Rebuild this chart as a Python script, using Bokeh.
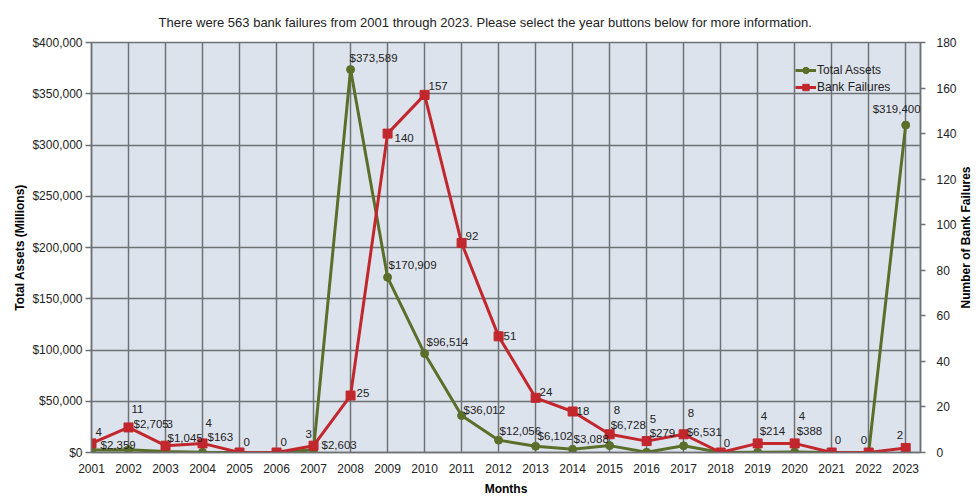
import math
from bokeh.plotting import figure
from bokeh.models import (ColumnDataSource, Range1d, LinearAxis, FixedTicker,
                          NumeralTickFormatter, LabelSet, Legend, LegendItem, Label)
from bokeh.core.properties import value
from bokeh.embed import file_html
from bokeh.resources import INLINE

# ---- data ----
years = [2001, 2002, 2003, 2004, 2005, 2006, 2007, 2008, 2009, 2010, 2011, 2012,
         2013, 2014, 2015, 2016, 2017, 2018, 2019, 2020, 2021, 2022, 2023]
total_assets = [2359, 2705, 1045, 163, 0, 0, 2603, 373589, 170909, 96514, 36012, 12056,
                6102, 3088, 6728, 279, 6531, 0, 214, 388, 0, 0, 319400]
bank_failures = [4, 11, 3, 4, 0, 0, 3, 25, 140, 157, 92, 51,
                 24, 18, 8, 5, 8, 0, 4, 4, 0, 0, 2]
assets_ticks = [0, 50000, 100000, 150000, 200000, 250000, 300000, 350000, 400000]
failure_ticks = [0, 20, 40, 60, 80, 100, 120, 140, 160, 180]

# ---- label placement (screen pixel offsets, style only) ----
assets_dx = [9, 5, 2, 5, 0, 0, 8, -1, 1, 2, 2, 1, 2, 1, 1, 3, 3, 0, 2, 2, 0, 0, -33]
assets_dy = [-5, -26, -13, -15, 0, 0, -5, -12, -12, -12, -6, -9, -10, -10, -21, -19, -14, 0, -21, -21, 0, 0, -16]
fail_dx = [4, 3, 1, 3, 4, 4, -8, 6, 7, 4, 4, 5, 4, 4, 4, 3, 4, 3, 3, 4, 3, -8, -9]
fail_dy = [-11, -18, -22, -20, -11, -11, -12, -3, 4, -9, -7, 0, -6, -1, -24, -22, -21, -10, -27, -27, -13, -13, -13]

GREEN = "#5b6f2a"
RED = "#c1272d"
GRID = "#6e7275"
TXT = "#222222"
FONT = "Liberation Sans"

p = figure(width=975, height=498, output_backend="svg", toolbar_location=None,
           x_range=Range1d(2001, 2023.4), y_range=Range1d(0, 400000),
           min_border_left=91, min_border_right=55, min_border_top=42, min_border_bottom=40,
           background_fill_color="#dde3ed", border_fill_color="white")
p.extra_y_ranges = {"fail": Range1d(0, 180)}
p.outline_line_color = GRID
p.outline_line_width = 1.5

total = sum(bank_failures)
title_text = (f"There were {total} bank failures from {years[0]} through {years[-1]}. "
              "Please select the year buttons below for more information.")
p.title.text = title_text
p.title.align = "left"
p.title.offset = 67
p.title.text_font = FONT
p.title.text_font_size = "13px"
p.title.text_font_style = "normal"
p.title.text_color = TXT
p.title.standoff = 25

# x axis
p.xaxis.ticker = FixedTicker(ticks=years)
p.xaxis.axis_label = "Months"
p.xaxis.major_tick_out = 0
p.xaxis.major_tick_in = 0
p.xaxis.minor_tick_out = 0
p.xaxis.minor_tick_in = 0
p.xaxis.major_label_standoff = 11
p.xaxis.axis_label_standoff = 6

# left axis
p.yaxis.ticker = FixedTicker(ticks=assets_ticks)
p.yaxis.formatter = NumeralTickFormatter(format="$0,0")
p.yaxis.axis_label = "Total Assets (Millions)"
p.yaxis.major_tick_out = 6
p.yaxis.major_tick_in = 0
p.yaxis.minor_tick_out = 0
p.yaxis.minor_tick_in = 0
p.yaxis.major_label_standoff = 3
p.yaxis.axis_label_standoff = 2

# right axis
rax = LinearAxis(y_range_name="fail", ticker=FixedTicker(ticks=failure_ticks))
rax.major_tick_out = 5
rax.major_tick_in = 0
rax.minor_tick_out = 0
rax.minor_tick_in = 0
rax.major_label_standoff = 11
p.add_layout(rax, "right")

for ax in [p.xaxis[0], p.yaxis[0], rax]:
    ax.axis_line_color = GRID
    ax.axis_line_width = 1.5
    ax.major_tick_line_color = GRID
    ax.major_tick_line_width = 1.5
    ax.major_label_text_font = FONT
    ax.major_label_text_font_size = "12px"
    ax.major_label_text_color = TXT
    ax.axis_label_text_font = FONT
    ax.axis_label_text_font_size = "12px"
    ax.axis_label_text_font_style = "bold"
    ax.axis_label_text_color = "#000000"

# right-hand axis title, reading bottom-to-top, placed in the right side panel
p.add_layout(Label(x=6, y=215, x_units="screen", y_units="screen", angle=math.pi / 2,
                   text="Number of Bank Failures", text_align="center", text_baseline="middle",
                   text_font=FONT, text_font_size="12px", text_font_style="bold",
                   text_color="#000000"), "right")

p.xgrid.grid_line_color = GRID
p.xgrid.grid_line_width = 1.5
p.ygrid.grid_line_color = GRID
p.ygrid.grid_line_width = 1.5

# series
g_line = p.line(years, total_assets, line_color=GREEN, line_width=3)
g_pts = p.scatter(years, total_assets, marker="circle", size=8, fill_color=GREEN, line_color=GREEN)
r_line = p.line(years, bank_failures, y_range_name="fail", line_color=RED, line_width=3)
r_pts = p.scatter(years, bank_failures, y_range_name="fail", marker="square", size=9,
                  fill_color=RED, line_color=RED)

# data labels
a_idx = [i for i, v in enumerate(total_assets) if v > 0]
a_src = ColumnDataSource(dict(
    x=[years[i] for i in a_idx],
    y=[total_assets[i] for i in a_idx],
    t=[f"${total_assets[i]:,}" for i in a_idx],
    dx=[assets_dx[i] for i in a_idx],
    dy=[-assets_dy[i] for i in a_idx],
))
f_src = ColumnDataSource(dict(
    x=years, y=bank_failures, t=[str(v) for v in bank_failures],
    dx=fail_dx, dy=[-d for d in fail_dy],
))
for src, rng in [(f_src, "fail"), (a_src, "default")]:
    ls = LabelSet(x="x", y="y", text="t", source=src, x_offset="dx", y_offset="dy",
                  y_range_name=rng, text_align="left", text_baseline="middle",
                  text_font=value(FONT), text_font_size="11.5px", text_color=TXT)
    p.add_layout(ls)

legend = Legend(items=[LegendItem(label="Total Assets", renderers=[g_line, g_pts]),
                       LegendItem(label="Bank Failures", renderers=[r_line, r_pts])],
                location=(704, 357), padding=0, margin=0, spacing=1,
                label_height=16, glyph_height=16, glyph_width=21, label_standoff=1,
                background_fill_alpha=0, border_line_alpha=0,
                label_text_font=FONT, label_text_font_size="12px", label_text_color=TXT)
p.add_layout(legend)

open("out.html", "w").write(file_html(p, INLINE))
